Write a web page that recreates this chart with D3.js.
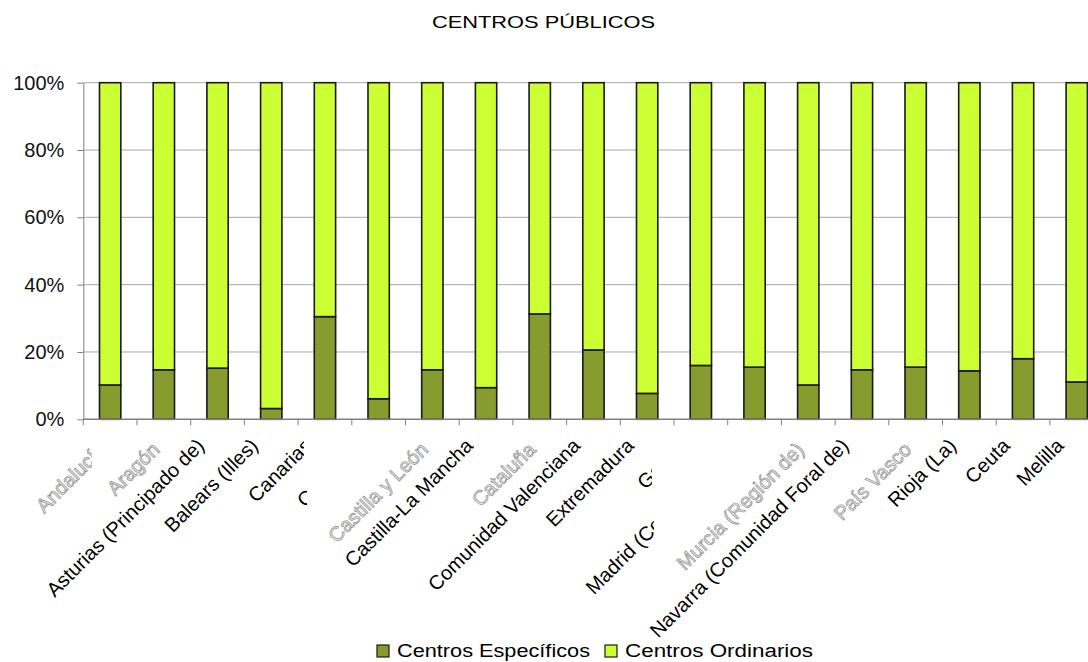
<!DOCTYPE html>
<html>
<head>
<meta charset="utf-8">
<script src="https://cdn.jsdelivr.net/npm/d3@7"></script>
<style>
  body { margin: 0; background: #fff; }
  svg { display: block; font-family: "Liberation Sans", Arial, sans-serif; }
</style>
</head>
<body>
<svg id="canvas" width="1088" height="662"></svg>
<script>
let title = 'CENTROS PÚBLICOS'

let categories = ['Andalucía', 'Aragón', 'Asturias (Principado de)', 'Balears (Illes)', 'Canarias',
    'Cantabria', 'Castilla y León', 'Castilla-La Mancha', 'Cataluña', 'Comunidad Valenciana',
    'Extremadura', 'Galicia', 'Madrid (Comunidad de)', 'Murcia (Región de)',
    'Navarra (Comunidad Foral de)', 'País Vasco', 'Rioja (La)', 'Ceuta', 'Melilla']

// percentages
let especificos = [10.2, 14.7, 15.2, 3.2, 30.5, 6.1, 14.7, 9.4, 31.3, 20.6, 7.7, 16.0, 15.5, 10.2, 14.7, 15.5, 14.4, 18.0, 11.1]
let ordinarios = [89.8, 85.3, 84.8, 96.8, 69.5, 93.9, 85.3, 90.6, 68.7, 79.4, 92.3, 84.0, 84.5, 89.8, 85.3, 84.5, 85.6, 82.0, 88.9]

let seriesNames = ['Centros Específicos', 'Centros Ordinarios']
let yTicks = [0, 0.2, 0.4, 0.6, 0.8, 1]

// labels that come out pale in the original
let paleLabels = ['Andalucía', 'Aragón', 'Castilla y León', 'Cataluña', 'Murcia (Región de)', 'País Vasco']

let colors = ['#879b2f', '#ccff33']

let canvas = d3.select('#canvas')

let plotLeft = 83.3, plotRight = 1103.6, plotTop = 82.7, plotBottom = 419.3

let rows = categories.map((c, i) => ({ name: c, esp: especificos[i], ord: ordinarios[i] }))

let stack = d3.stack().keys(['esp', 'ord']).offset(d3.stackOffsetExpand)
let layers = stack(rows)

let x = d3.scaleBand()
    .domain(categories)
    .range([plotLeft, plotRight])
    .paddingInner(0.603)
    .paddingOuter(0.3015)

let y = d3.scaleLinear().domain([0, 1]).range([plotBottom, plotTop])

// gridlines
canvas.append('g')
    .selectAll('line')
    .data(yTicks.filter(d => d > 0))
    .enter()
    .append('line')
    .attr('x1', plotLeft)
    .attr('x2', 1088)
    .attr('y1', d => y(d))
    .attr('y2', d => y(d))
    .attr('stroke', '#a8a8a8')
    .attr('stroke-width', 1)

// y axis
let yAxis = canvas.append('g')
    .attr('transform', 'translate(' + plotLeft + ',0)')
    .call(d3.axisLeft(y).tickValues(yTicks).tickFormat(d3.format('.0%')).tickSize(6).tickSizeOuter(0).tickPadding(13))
yAxis.select('.domain').attr('stroke', '#808080')
yAxis.selectAll('.tick line').attr('stroke', '#808080')
yAxis.selectAll('.tick text')
    .attr('font-size', 20)
    .attr('fill', '#111')
    .attr('font-family', '"Liberation Sans", Arial, sans-serif')

// bars
canvas.append('g')
    .selectAll('g')
    .data(layers)
    .enter()
    .append('g')
    .attr('fill', (d, i) => colors[i])
    .selectAll('rect')
    .data(d => d)
    .enter()
    .append('rect')
    .attr('x', d => x(d.data.name))
    .attr('width', x.bandwidth())
    .attr('y', d => y(d[1]))
    .attr('height', d => y(d[0]) - y(d[1]))
    .attr('stroke', '#1a1a1a')
    .attr('stroke-width', 1.6)

// x axis line and ticks at category boundaries
canvas.append('line')
    .attr('x1', plotLeft).attr('x2', 1088)
    .attr('y1', plotBottom).attr('y2', plotBottom)
    .attr('stroke', '#808080').attr('stroke-width', 1.5)

canvas.append('g')
    .selectAll('line')
    .data(categories)
    .enter()
    .append('line')
    .attr('x1', d => x(d) + x.bandwidth() / 2 - x.step() / 2)
    .attr('x2', d => x(d) + x.bandwidth() / 2 - x.step() / 2)
    .attr('y1', plotBottom)
    .attr('y2', plotBottom + 6)
    .attr('stroke', '#808080')

// the original cuts a few labels short
let defs = canvas.append('defs')
let clipAt = { 'Andalucía': 92, 'Canarias': 304, 'Cantabria': 307, 'Galicia': 652, 'Madrid (Comunidad de)': 654 }
Object.keys(clipAt).forEach((k, i) => {
    defs.append('clipPath').attr('id', 'lc' + i)
        .append('rect').attr('x', 0).attr('y', 0).attr('width', clipAt[k]).attr('height', 662)
})

let labels = canvas.append('g')
    .selectAll('g')
    .data(categories)
    .enter()
    .append('g')
    .attr('clip-path', d => {
        let k = Object.keys(clipAt).indexOf(d)
        return k >= 0 ? 'url(#lc' + k + ')' : null
    })

labels.append('text')
    .text(d => d)
    .attr('text-anchor', 'end')
    .attr('font-size', 20)
    .attr('transform', d => {
        let cx = x(d) + x.bandwidth() / 2
        let pale = paleLabels.includes(d)
        let ax = pale ? cx - 3 : cx - 12
        let ay = pale ? 451 : 447
        return 'translate(' + ax + ',' + ay + ') rotate(-45)'
    })
    .attr('fill', d => paleLabels.includes(d) ? '#ececec' : '#000')
    .attr('stroke', d => paleLabels.includes(d) ? '#8c8c8c' : 'none')
    .attr('stroke-width', 0.7)

// title
canvas.append('text')
    .attr('x', 543.5)
    .attr('y', 28)
    .attr('text-anchor', 'middle')
    .attr('font-size', 17)
    .attr('textLength', 223)
    .attr('lengthAdjust', 'spacingAndGlyphs')
    .text(title)

// legend
let legendX = [377, 605]
let legendW = [193, 188]
let legend = canvas.append('g')
    .selectAll('g')
    .data(seriesNames)
    .enter()
    .append('g')
    .attr('transform', (d, i) => 'translate(' + legendX[i] + ',645)')
legend.append('rect')
    .attr('width', 12)
    .attr('height', 12)
    .attr('fill', (d, i) => colors[i])
    .attr('stroke', '#1a1a1a')
    .attr('stroke-width', 1.2)
legend.append('text')
    .attr('x', 20)
    .attr('y', 12)
    .attr('font-size', 18)
    .attr('textLength', (d, i) => legendW[i])
    .attr('lengthAdjust', 'spacingAndGlyphs')
    .text(d => d)
</script>
</body>
</html>
